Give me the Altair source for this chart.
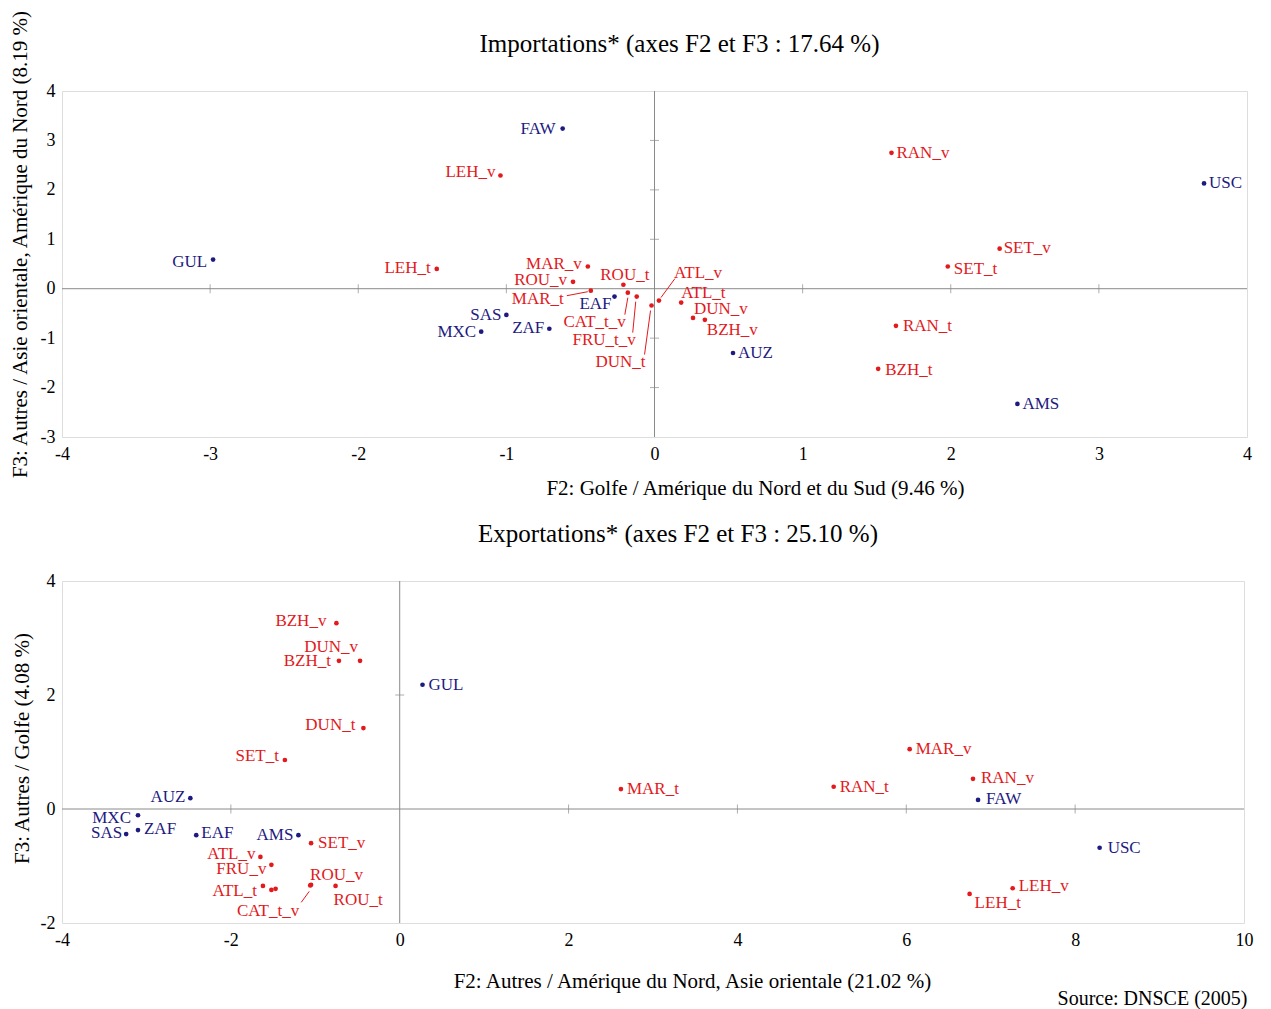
import altair as alt
import pandas as pd

FONT = "Liberation Serif"
BLUE = "#1d1a80"
RED = "#e3191c"
GRAY = "#8a8a8a"

# ---------------- Importations (F2 x F3) ----------------
imp_names = ["FAW", "USC", "GUL", "SAS", "MXC", "ZAF", "EAF", "AUZ", "AMS",
             "LEH_v", "LEH_t", "MAR_v", "ROU_v", "ROU_t", "MAR_t", "CAT_t_v",
             "FRU_t_v", "DUN_t", "ATL_v", "ATL_t", "DUN_v", "BZH_v", "RAN_v",
             "SET_v", "SET_t", "RAN_t", "BZH_t"]
imp_x = [-0.62, 3.71, -2.98, -1.00, -1.17, -0.71, -0.27, 0.53, 2.45,
         -1.04, -1.47, -0.45, -0.55, -0.21, -0.43, -0.18,
         -0.12, -0.02, 0.03, 0.18, 0.26, 0.34, 1.60,
         2.33, 1.98, 1.63, 1.51]
imp_y = [3.24, 2.13, 0.59, -0.53, -0.87, -0.81, -0.16, -1.30, -2.33,
         2.29, 0.40, 0.45, 0.14, 0.08, -0.04, -0.08,
         -0.16, -0.34, -0.24, -0.28, -0.59, -0.63, 2.75,
         0.81, 0.45, -0.75, -1.62]
imp_kind = ["pays"] * 9 + ["produit"] * 18

# label placement: align, dx(px), dy(px)
imp_place = {
    "FAW": ("right", -7, 0), "USC": ("left", 5, 0), "GUL": ("right", -6, 2),
    "SAS": ("right", -5, 0), "MXC": ("right", -5, 0), "ZAF": ("right", -5, -1),
    "EAF": ("right", -3, 7), "AUZ": ("left", 5, 0), "AMS": ("left", 5, 0),
    "LEH_v": ("right", -5, -4), "LEH_t": ("right", -6, -1), "MAR_v": ("right", -6, -2),
    "ROU_v": ("right", -6, -2), "ROU_t": ("right", 26, -10), "MAR_t": ("right", -27, 8),
    "CAT_t_v": ("right", -2, 29), "FRU_t_v": ("right", -1, 43), "DUN_t": ("right", -6, 56),
    "ATL_v": ("left", 15, -28), "ATL_t": ("left", 0, -10), "DUN_v": ("left", 1, -9),
    "BZH_v": ("left", 2, 10), "RAN_v": ("left", 5, 0), "SET_v": ("left", 4, -1),
    "SET_t": ("left", 6, 3), "RAN_t": ("left", 7, 0), "BZH_t": ("left", 7, 1),
}
# leader lines: start dx, dy, end dx, dy (px from point)
imp_leaders = {
    "MAR_t": (-3, 1, -24, 5),
    "CAT_t_v": (0, 5, -3, 22),
    "FRU_t_v": (-1, 5, -4, 36),
    "DUN_t": (-1, 5, -7, 49),
    "ATL_v": (2, -3, 16, -22),
}

# ---------------- Exportations (F2 x F3) ----------------
exp_names = ["GUL", "AUZ", "MXC", "SAS", "ZAF", "EAF", "AMS", "FAW", "USC",
             "BZH_v", "BZH_t", "DUN_v", "DUN_t", "SET_t", "SET_v", "ATL_v",
             "FRU_v", "ATL_t", "FRU_t", "CAT_t", "ROU_v", "CAT_t_v", "ROU_t",
             "MAR_t", "RAN_t", "MAR_v", "RAN_v", "LEH_v", "LEH_t"]
exp_x = [0.27, -2.48, -3.10, -3.24, -3.10, -2.41, -1.20, 6.85, 8.29,
         -0.75, -0.72, -0.47, -0.43, -1.36, -1.05, -1.65,
         -1.52, -1.62, -1.52, -1.47, -1.05, -1.06, -0.76,
         2.62, 5.14, 6.04, 6.79, 7.26, 6.75]
exp_y = [2.18, 0.19, -0.11, -0.44, -0.37, -0.46, -0.46, 0.16, -0.68,
         3.26, 2.60, 2.60, 1.42, 0.86, -0.60, -0.84,
         -0.98, -1.35, -1.42, -1.40, -1.33, -1.34, -1.35,
         0.35, 0.39, 1.05, 0.53, -1.39, -1.49]
exp_kind = ["pays"] * 9 + ["produit"] * 20

exp_place = {
    "GUL": ("left", 6, 0), "AUZ": ("right", -5, -1), "MXC": ("right", -7, 3),
    "SAS": ("right", -4, -1), "ZAF": ("left", 6, -1), "EAF": ("left", 5, -2),
    "AMS": ("right", -5, 0), "FAW": ("left", 8, -1), "USC": ("left", 8, 0),
    "BZH_v": ("right", -10, -2), "BZH_t": ("right", -8, 0), "DUN_v": ("right", -2, -14),
    "DUN_t": ("right", -8, -3), "SET_t": ("right", -6, -4), "SET_v": ("left", 7, 0),
    "ATL_v": ("right", -5, -3), "FRU_v": ("right", -5, 4), "ATL_t": ("right", -6, 5),
    "ROU_v": ("left", -1, -10), "CAT_t_v": ("right", -11, 26), "ROU_t": ("left", -2, 14),
    "MAR_t": ("left", 6, 0), "RAN_t": ("left", 6, 0), "MAR_v": ("left", 6, 0),
    "RAN_v": ("left", 8, -1), "LEH_v": ("left", 6, -2), "LEH_t": ("left", 5, 9),
}
exp_leaders = {"CAT_t_v": (-1, 6, -9, 17)}

IMP_W, IMP_H = 1185, 346
EXP_W, EXP_H = 1182, 342


def build(names, xs, ys, kinds, place, leaders, xdom, ydom, w, h):
    ppx = w / (xdom[1] - xdom[0])
    ppy = h / (ydom[1] - ydom[0])
    rows, lrows = [], []
    for n, x, y, k in zip(names, xs, ys, kinds):
        al, dx, dy = place.get(n, ("none", 0, 0))
        rows.append(dict(name=n, x=x, y=y, kind=k, align=al,
                         lx=x + dx / ppx, ly=y - dy / ppy))
        if n in leaders:
            sx, sy, ex, ey = leaders[n]
            lrows.append(dict(x=x + sx / ppx, y=y - sy / ppy,
                              x2=x + ex / ppx, y2=y - ey / ppy, kind=k))
    return pd.DataFrame(rows), pd.DataFrame(lrows)


def panel(df, ldf, xdom, ydom, xvals, yvals, xt, yt, w, h, title, title_offset,
          xtitle_x, xtitle_y, ytitle_x, ytitle_y):
    color = alt.Color("kind:N", scale=alt.Scale(domain=["pays", "produit"], range=[BLUE, RED]),
                      legend=None)
    xs = alt.Scale(domain=xdom, nice=False, zero=False)
    ys = alt.Scale(domain=ydom, nice=False, zero=False)
    xaxis = alt.Axis(values=xvals, ticks=False, domain=False, grid=False, labelFlush=False,
                     labelExpr="'' + datum.value", labelFont=FONT, labelFontSize=18,
                     labelColor="black", labelPadding=8, title=xt, titleFont=FONT,
                     titleFontSize=21, titleFontWeight="normal", titleColor="black",
                     titleX=xtitle_x, titleY=xtitle_y, titleAlign="center",
                     titleBaseline="middle")
    yaxis = alt.Axis(values=yvals, ticks=False, domain=False, grid=False, labelFlush=False,
                     labelExpr="'' + datum.value", labelFont=FONT, labelFontSize=18,
                     labelColor="black", labelPadding=7, title=yt, titleFont=FONT,
                     titleFontSize=21, titleFontWeight="normal", titleColor="black",
                     titleX=ytitle_x, titleY=ytitle_y, titleAlign="center",
                     titleBaseline="middle", titleAngle=-90)

    base = alt.Chart(df)
    pts = base.mark_circle(size=22, opacity=1).encode(
        x=alt.X("x:Q", scale=xs, axis=xaxis),
        y=alt.Y("y:Q", scale=ys, axis=yaxis),
        color=color,
    )
    lab_l = base.transform_filter("datum.align == 'left'").mark_text(
        align="left", baseline="middle", font=FONT, fontSize=17).encode(
        x="lx:Q", y="ly:Q", text="name:N", color=color)
    lab_r = base.transform_filter("datum.align == 'right'").mark_text(
        align="right", baseline="middle", font=FONT, fontSize=17).encode(
        x="lx:Q", y="ly:Q", text="name:N", color=color)

    zero = pd.DataFrame({"v": [0]})
    vline = alt.Chart(zero).mark_rule(color=GRAY, strokeWidth=1).encode(x="v:Q")
    hline = alt.Chart(zero).mark_rule(color=GRAY, strokeWidth=1).encode(y="v:Q")
    xt_df = pd.DataFrame({"t": [v for v in xvals if v not in (0, xdom[0], xdom[1])], "z": 0})
    yt_df = pd.DataFrame({"t": [v for v in yvals if v not in (0, ydom[0], ydom[1])], "z": 0})
    xticks = alt.Chart(xt_df).mark_tick(orient="vertical", size=9, thickness=1,
                                         color=GRAY).encode(x="t:Q", y="z:Q")
    yticks = alt.Chart(yt_df).mark_tick(orient="horizontal", size=9, thickness=1,
                                         color=GRAY).encode(x="z:Q", y="t:Q")
    layers = [vline, hline, xticks, yticks]
    if len(ldf):
        lead = alt.Chart(ldf).mark_rule(color=RED, strokeWidth=1).encode(
            x="x:Q", y="y:Q", x2="x2:Q", y2="y2:Q")
        layers.append(lead)
    layers += [pts, lab_l, lab_r]
    return alt.layer(*layers).properties(
        width=w, height=h,
        title=alt.TitleParams(title, font=FONT, fontSize=25, fontWeight="normal",
                              color="black", frame="group", anchor="middle",
                              dx=25, offset=title_offset, baseline="bottom"),
    )


imp_df, imp_ldf = build(imp_names, imp_x, imp_y, imp_kind, imp_place, imp_leaders,
                        (-4, 4), (-3, 4), IMP_W, IMP_H)
exp_df, exp_ldf = build(exp_names, exp_x, exp_y, exp_kind, exp_place, exp_leaders,
                        (-4, 10), (-2, 4), EXP_W, EXP_H)

top = panel(imp_df, imp_ldf, [-4, 4], [-3, 4], list(range(-4, 5)), list(range(-3, 5)),
            "F2: Golfe / Amérique du Nord et du Sud (9.46 %)",
            "F3: Autres / Asie orientale, Amérique du Nord (8.19 %)",
            IMP_W, IMP_H, "Importations* (axes F2 et F3 : 17.64 %)", -73,
            693, 51, -42, 153)
bottom = panel(exp_df, exp_ldf, [-4, 10], [-2, 4], list(range(-4, 11, 2)), [-2, 0, 2, 4],
               "F2: Autres / Amérique du Nord, Asie orientale (21.02 %)",
               "F3: Autres / Golfe (4.08 %)",
               EXP_W, EXP_H, "Exportations* (axes F2 et F3 : 25.10 %)", 0,
               630, 58, -40, 167)

chart = alt.vconcat(top, bottom, spacing=22).properties(
    padding=0,
    title=alt.TitleParams("Source: DNSCE (2005)", orient="bottom", anchor="end",
                          font=FONT, fontSize=20, fontWeight="normal", color="black",
                          offset=-3, dx=-6),
).configure_view(stroke=GRAY, strokeWidth=1).configure(background="white")

chart.save("out.html", embed_options={"renderer": "svg", "actions": False})
